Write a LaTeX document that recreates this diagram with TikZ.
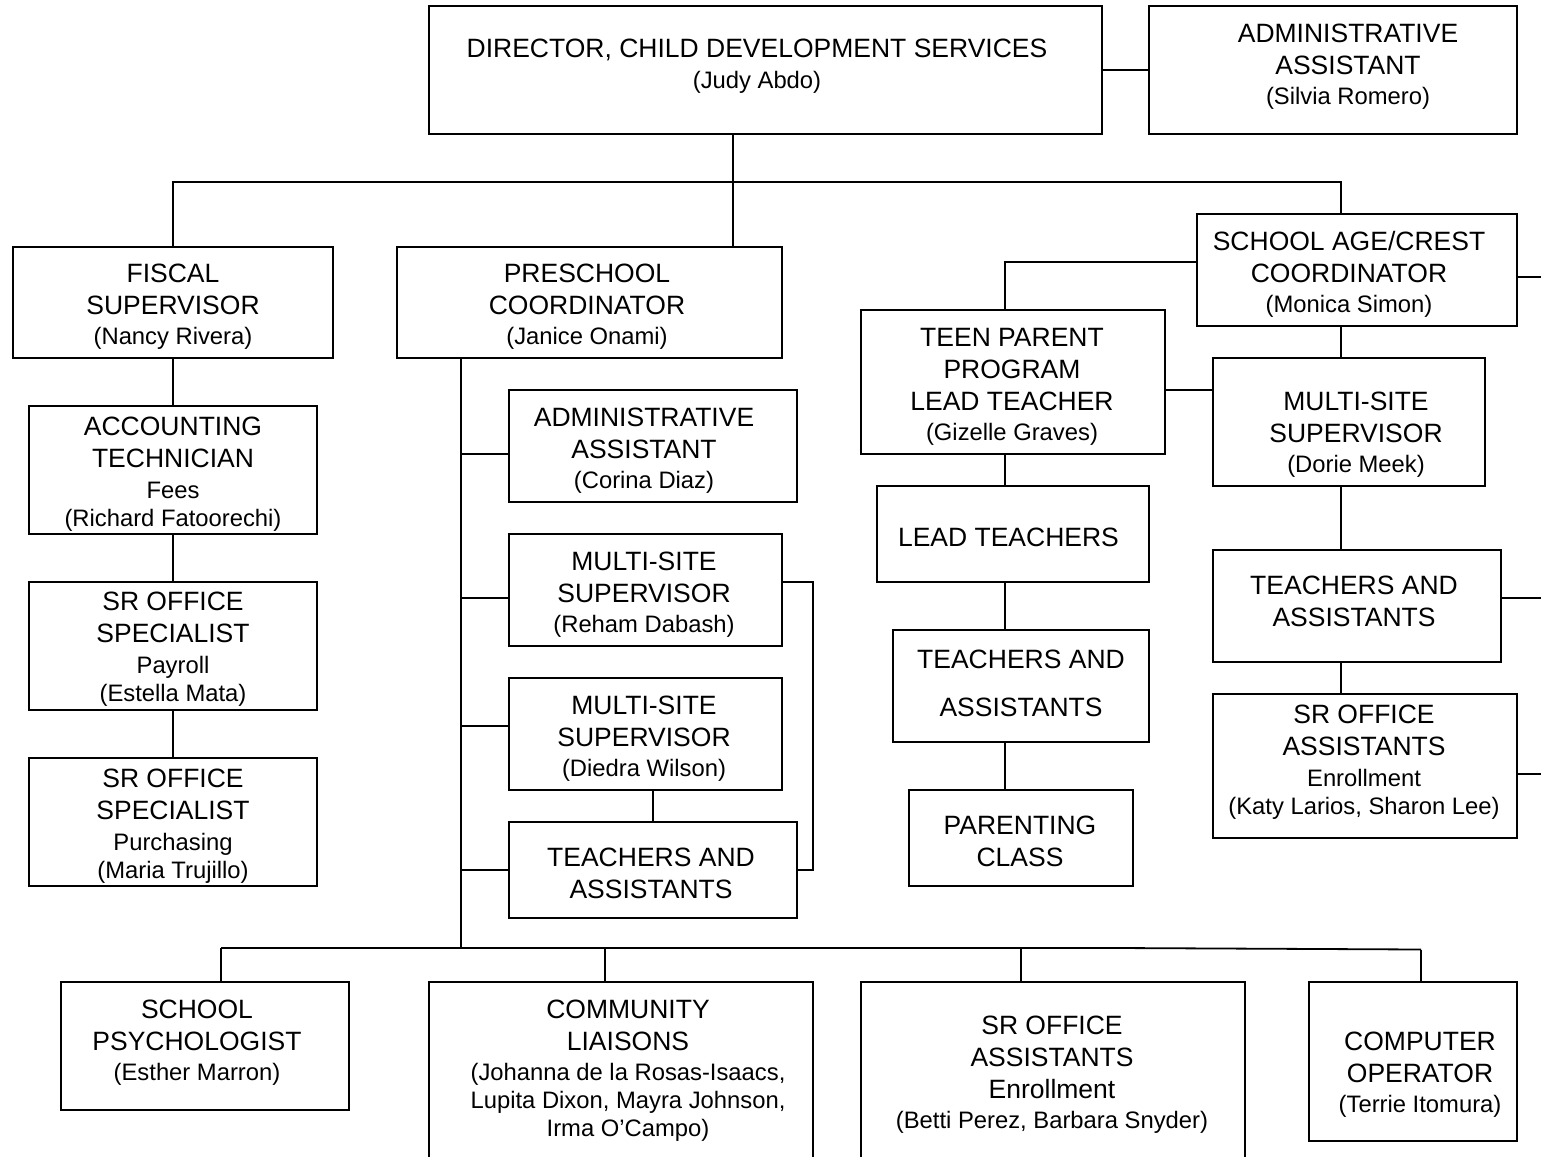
\documentclass[tikz,border=0pt]{standalone}
\usepackage{fontspec}
\setmainfont{Liberation Sans}
\newcommand\bigf{\fontsize{13.25pt}{14pt}\selectfont}
\newcommand\smf{\fontsize{11.9pt}{14pt}\selectfont}
\newcommand\obox[5]{\node[obx,minimum width={(#4-#2)*0.5pt},minimum height={(#5-#3)*0.5pt}] (#1) at ({(#2+#4)/2},{(#3+#5)/2}) {};}
\begin{document}
\begin{tikzpicture}[x=0.5pt,y=-0.5pt,
  obx/.style={draw,rectangle,line width=1pt,inner sep=0pt,outer sep=0pt},
  txt/.style={align=center,inner sep=0pt,font=\bigf,yshift=-1.3pt},
  ln/.style={line width=0.9pt}]
\clip (0,0) rectangle (1541,1156);
% boxes
\obox{dir}{429}{6}{1102}{134}
\obox{aa1}{1149}{6}{1517}{134}
\obox{fis}{13}{247}{333}{358}
\obox{pre}{397}{247}{782}{358}
\obox{sa}{1197}{214}{1517}{326}
\obox{teen}{861}{310}{1165}{454}
\obox{dm}{1213}{358}{1485}{486}
\obox{acct}{29}{406}{317}{534}
\obox{aa2}{509}{390}{797}{502}
\obox{rd}{509}{534}{782}{646}
\obox{lt}{877}{486}{1149}{582}
\obox{tar}{1213}{550}{1501}{662}
\obox{pay}{29}{582}{317}{710}
\obox{dw}{509}{678}{782}{790}
\obox{tam}{893}{630}{1149}{742}
\obox{sor}{1213}{694}{1517}{838}
\obox{pur}{29}{758}{317}{886}
\obox{tap}{509}{822}{797}{918}
\obox{pc}{909}{790}{1133}{886}
\obox{ps}{61}{982}{349}{1110}
\obox{cl}{429}{982}{813}{1170}
\obox{soe}{861}{982}{1245}{1170}
\obox{co}{1309}{982}{1517}{1141}
% texts
\node[txt] (dir-t) at (757,63.5) {DIRECTOR, CHILD DEVELOPMENT SERVICES\\[1.5pt]{\smf (Judy Abdo)}};
\node[txt] (aa1-t) at (1348,64) {ADMINISTRATIVE\\[2pt]ASSISTANT\\[1pt]{\smf (Silvia Romero)}};
\node[txt] (fis-t) at (173,304) {FISCAL\\[2pt]SUPERVISOR\\[1pt]{\smf (Nancy Rivera)}};
\node[txt] (pre-t) at (587,304) {PRESCHOOL\\[2pt]COORDINATOR\\[1pt]{\smf (Janice Onami)}};
\node[txt] (sa-t) at (1349,272) {SCHOOL AGE/CREST\\[2pt]COORDINATOR\\[1pt]{\smf (Monica Simon)}};
\node[txt] (teen-t) at (1012,384) {TEEN PARENT\\[2pt]PROGRAM\\[2pt]LEAD TEACHER\\[1pt]{\smf (Gizelle Graves)}};
\node[txt] (dm-t) at (1356,432) {MULTI-SITE\\[2pt]SUPERVISOR\\[1pt]{\smf (Dorie Meek)}};
\node[txt] (acct-t) at (173,471.5) {ACCOUNTING\\[2pt]TECHNICIAN\\[1.5pt]{\smf Fees}\\{\smf (Richard Fatoorechi)}};
\node[txt] (aa2-t) at (644,448) {ADMINISTRATIVE\\[2pt]ASSISTANT\\[1pt]{\smf (Corina Diaz)}};
\node[txt] (rd-t) at (644,592) {MULTI-SITE\\[2pt]SUPERVISOR\\[1pt]{\smf (Reham Dabash)}};
\node[txt] (lt-t) at (1008.5,535) {LEAD TEACHERS};
\node[txt] (tar-t) at (1354,599) {TEACHERS AND\\[2pt]ASSISTANTS};
\node[txt] (pay-t) at (173,647) {SR OFFICE\\[2pt]SPECIALIST\\[1.5pt]{\smf Payroll}\\{\smf (Estella Mata)}};
\node[txt] (dw-t) at (644,736) {MULTI-SITE\\[2pt]SUPERVISOR\\[1pt]{\smf (Diedra Wilson)}};
\node[txt] (tam-t) at (1021,681) {TEACHERS AND\\[10pt]ASSISTANTS};
\node[txt] (sor-t) at (1364,759.5) {SR OFFICE\\[2pt]ASSISTANTS\\[1.5pt]{\smf Enrollment}\\{\smf (Katy Larios, Sharon Lee)}};
\node[txt] (pur-t) at (173,823.5) {SR OFFICE\\[2pt]SPECIALIST\\[1.5pt]{\smf Purchasing}\\{\smf (Maria Trujillo)}};
\node[txt] (tap-t) at (651,871) {TEACHERS AND\\[2pt]ASSISTANTS};
\node[txt] (pc-t) at (1020,839) {PARENTING\\[2pt]CLASS};
\node[txt] (ps-t) at (197,1040) {SCHOOL\\[2pt]PSYCHOLOGIST\\[1pt]{\smf (Esther Marron)}};
\node[txt] (cl-t) at (628,1068) {COMMUNITY\\[2pt]LIAISONS\\[1pt]{\smf (Johanna de la Rosas-Isaacs,}\\{\smf Lupita Dixon, Mayra Johnson,}\\{\smf Irma O’Campo)}};
\node[txt] (soe-t) at (1052,1072) {SR OFFICE\\[2pt]ASSISTANTS\\[2pt]Enrollment\\[1pt]{\smf (Betti Perez, Barbara Snyder)}};
\node[txt] (co-t) at (1420,1072) {COMPUTER\\[2pt]OPERATOR\\[1pt]{\smf (Terrie Itomura)}};
% helper coordinates
\coordinate (topbus) at (733,182);
\coordinate (saX) at (1341,182);
\coordinate (pv) at (461,948);
\coordinate (rx) at (813,700);
\coordinate (dwx) at (653,800);
\coordinate (tpx) at (1005,262);
\coordinate (ty) at (1190,390);
\coordinate (e1) at (1541,277);
\coordinate (e2) at (1541,598);
\coordinate (e3) at (1541,774);
\coordinate (bpsy) at (221,948);
\coordinate (bcom) at (605,948);
\coordinate (bkink) at (1117,948);
\coordinate (benr) at (1021,948);
\coordinate (bcmp) at (1421,949.5);
% top level
\draw[ln] (dir.east) -- (aa1.west);
\draw[ln] (dir.south -| topbus) -- (pre.north -| topbus);
\draw[ln] (fis.north) -- (fis.north |- topbus) -- (saX) -- (sa.north -| saX);
% fiscal chain
\draw[ln] (fis.south) -- (acct.north);
\draw[ln] (acct.south) -- (pay.north);
\draw[ln] (pay.south) -- (pur.north);
% preschool
\draw[ln] (pre.south -| pv) -- (pv);
\draw[ln] (pv) |- ([yshift=-4pt]aa2.west);
\draw[ln] (pv) |- ([yshift=-4pt]rd.west);
\draw[ln] (pv) |- ([yshift=4pt]dw.west);
\draw[ln] (pv) |- (tap.west);
\draw[ln] ([yshift=4pt]rd.east) -| (rx) |- (tap.east);
\draw[ln] (dw.south -| dwx) -- (tap.north -| dwx);
% bottom bus
\draw[ln] (bpsy) -- (bkink) -- (bcmp);
\draw[ln] (bpsy) -- (ps.north -| bpsy);
\draw[ln] (bcom) -- (cl.north -| bcom);
\draw[ln] (benr) -- (soe.north -| benr);
\draw[ln] (bcmp) -- (co.north -| bcmp);
% school age
\draw[ln] ([yshift=4pt]sa.west) -| (teen.north -| tpx);
\draw[ln] (e1 -| sa.east) -- (e1);
\draw[ln] (sa.south -| saX) -- (dm.north -| saX);
\draw[ln] (teen.east |- ty) -- (dm.west |- ty);
\draw[ln] (teen.south -| tpx) -- (lt.north -| tpx);
\draw[ln] (lt.south -| tpx) -- (tam.north -| tpx);
\draw[ln] (tam.south -| tpx) -- (pc.north -| tpx);
\draw[ln] (dm.south -| saX) -- (tar.north -| saX);
\draw[ln] (tar.south -| saX) -- (sor.north -| saX);
\draw[ln] (e2 -| tar.east) -- (e2);
\draw[ln] (e3 -| sor.east) -- (e3);
\end{tikzpicture}
\end{document}
